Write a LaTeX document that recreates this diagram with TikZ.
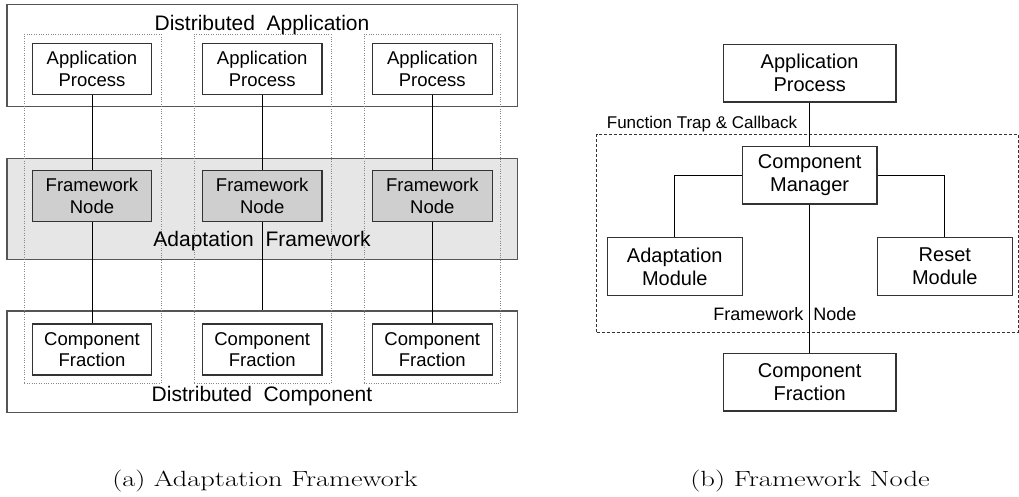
\documentclass[tikz,border=0pt]{standalone}
\usepackage{fontspec}
\newfontfamily\arialf{Liberation Sans}
\definecolor{boxc}{HTML}{333333}
\definecolor{outc}{HTML}{555555}
\definecolor{bandfill}{HTML}{E6E6E6}
\definecolor{fnfill}{HTML}{CFCFCF}
\definecolor{dotc}{HTML}{888888}
\tikzset{
  lbox/.style={draw=boxc, line width=1.1pt, fill=white, minimum width=119.5pt, minimum height=51pt,
    inner sep=0pt, align=center, font=\arialf\fontsize{18.5}{21.7}\selectfont},
  fnbox/.style={lbox, fill=fnfill},
  outerbox/.style={draw=outc, line width=1.3pt, inner sep=0pt, minimum width=510.7pt},
  colbox/.style={draw=dotc, line width=0.7pt, dash pattern=on 1pt off 1.4pt, minimum width=136.7pt,
    minimum height=349pt, inner sep=0pt},
  rbox/.style={draw=boxc, line width=1.1pt, fill=white, inner sep=0pt, align=center,
    font=\arialf\fontsize{20}{23.3}\selectfont},
  conn/.style={draw=black, line width=1pt},
  biglabel/.style={font=\arialf\fontsize{21}{25}\selectfont, inner sep=0pt, anchor=base},
  smalllabel/.style={font=\arialf\fontsize{17}{20}\selectfont, inner sep=0pt},
  caption/.style={font=\fontsize{22}{26}\selectfont, inner sep=0pt, anchor=base}
}
\begin{document}
\begin{tikzpicture}[x=1pt,y=-1pt]
\useasboundingbox (0,0) rectangle (1019,496);
% ---------- (a) ----------
\node[outerbox, minimum height=102pt] (da) at (262.35,55.7) {};
\node[outerbox, minimum height=101pt, fill=bandfill] (af) at (262.35,208.8) {};
\node[outerbox, minimum height=101.7pt] (dc) at (262.35,361.85) {};
\node[colbox] (col1) at (92.65,208.8) {};
\node[colbox] (col2) at (262.5,208.8) {};
\node[colbox] (col3) at (432.35,208.8) {};
\node[biglabel] (dal) at (262,30) {Distributed\ \ Application};
\node[biglabel] (afl) at (262,246.8) {Adaptation\ \ Framework};
\node[biglabel] (dcl) at (262,401.7) {Distributed\ \ Component};
\foreach \i/\x in {1/92,2/262.2,3/432.3}{
  \node[lbox] (ap\i) at (\x,68.8) {Application\\Process};
  \node[fnbox] (fn\i) at (\x,196.2) {Framework\\Node};
  \node[lbox] (cf\i) at (\x,349.5) {Component\\Fraction};
}
\draw[conn] (ap1) -- (fn1);
\draw[conn] (ap2) -- (fn2);
\draw[conn] (ap3) -- (fn3);
\draw[conn] (fn1) -- (cf1);
\draw[conn] (fn2.south) -- (fn2.south |- dc.north);
\draw[conn] (fn3) -- (cf3);
% ---------- (b) ----------
\node[draw=boxc, line width=1pt, dash pattern=on 3pt off 2pt, minimum width=421.3pt, minimum height=197.7pt,
  inner sep=0pt] (fnframe) at (807.35,233.15) {};
\node[smalllabel, anchor=base west] (ftc) at (606.7,128) {Function Trap \& Callback};
\node[smalllabel, font=\arialf\fontsize{18}{21}\selectfont, anchor=base] (fnl) at (785,320.7) {Framework\ \ Node};
\node[rbox, minimum width=172.7pt, minimum height=57.7pt] (ap) at (809.65,73.15) {Application\\Process};
\node[rbox, minimum width=134.7pt, minimum height=57.3pt] (cm) at (809.65,175.35) {Component\\Manager};
\node[rbox, minimum width=135pt, minimum height=57.6pt] (am) at (674.8,266.5) {Adaptation\\Module};
\node[rbox, minimum width=135pt, minimum height=57.6pt] (rm) at (944.8,266.5) {Reset\\Module};
\node[rbox, minimum width=172.7pt, minimum height=57.7pt] (cf) at (809.65,382.15) {Component\\Fraction};
\draw[conn] (ap) -- (cm);
\draw[conn] (cm) -- (cf);
\draw[conn] (cm.west) -| (am.north);
\draw[conn] (cm.east) -| (rm.north);
% ---------- captions ----------
\node[caption] (capa) at (265,486) {\scalebox{1.29}[1]{(a) Adaptation Framework}};
\node[caption] (capb) at (810,486) {\scalebox{1.3}[1]{(b) Framework Node}};
\end{tikzpicture}
\end{document}
